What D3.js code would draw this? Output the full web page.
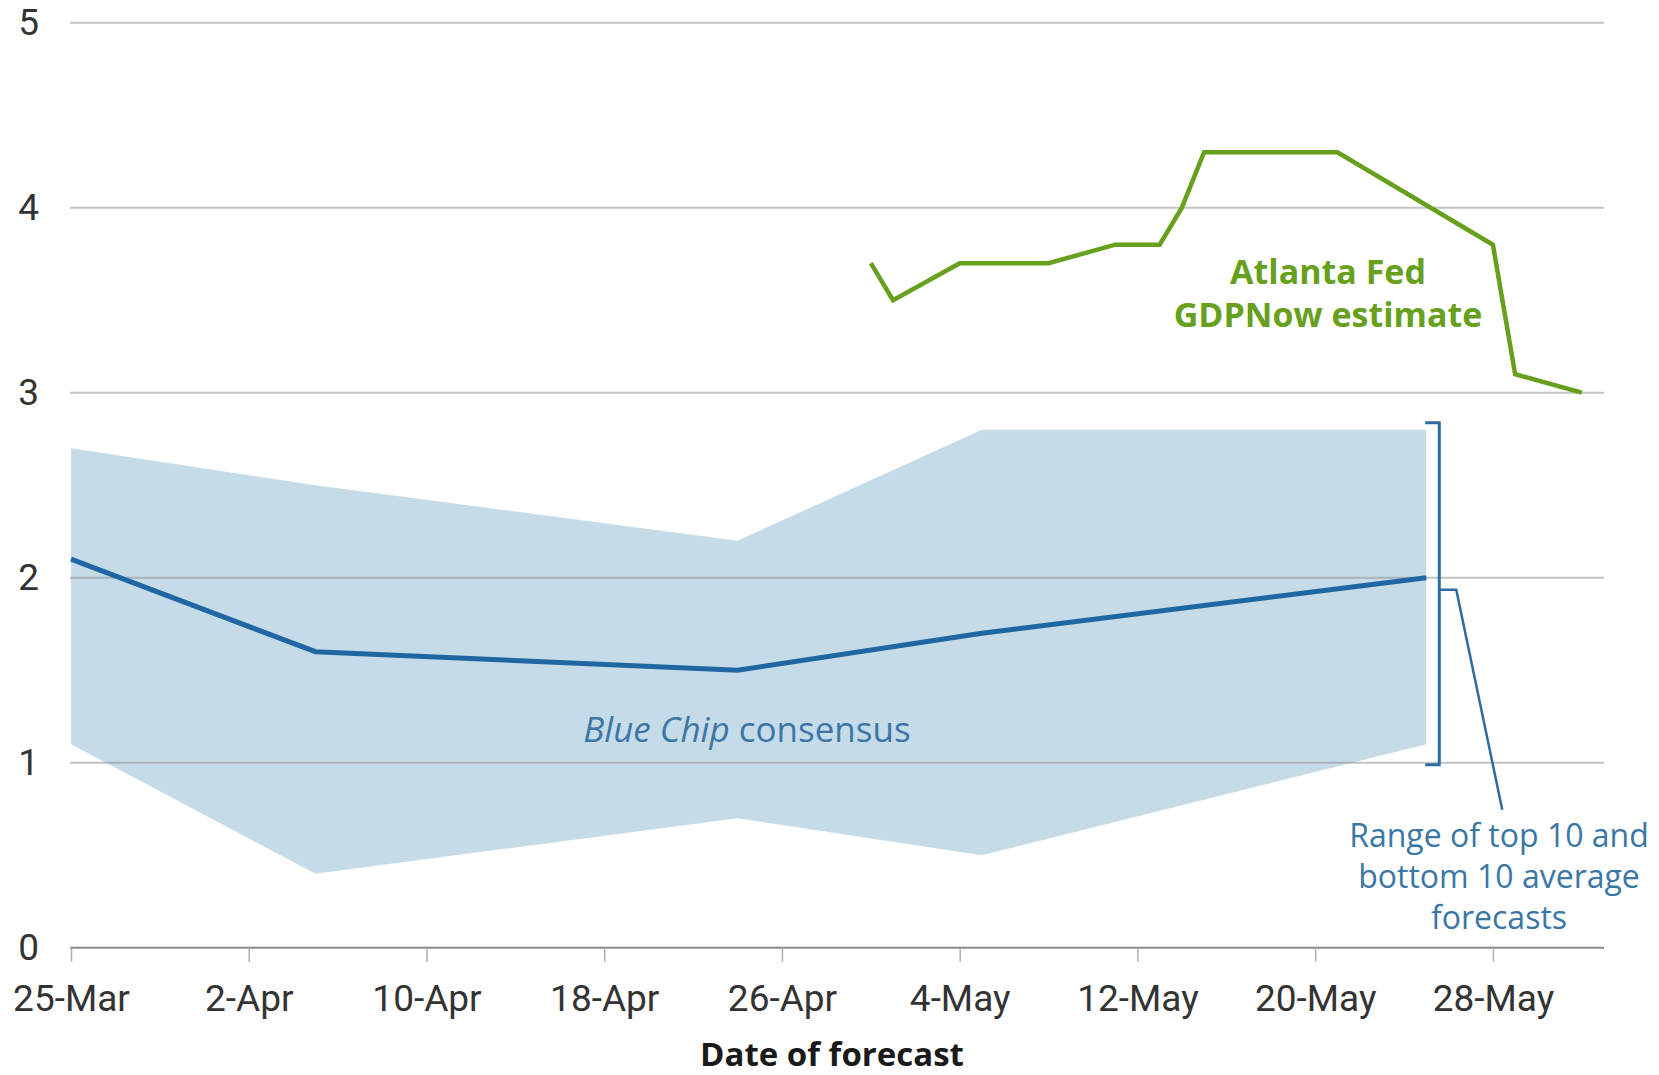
<!DOCTYPE html>
<html>
<head>
<meta charset="utf-8">
<script src="https://cdn.jsdelivr.net/npm/d3@7/dist/d3.min.js"></script>
<style>
  html, body { margin: 0; padding: 0; background: #fff; }
  svg { display: block; font-family: "Open Sans", Roboto, sans-serif; }
</style>
</head>
<body>
<svg id="chart" width="1659" height="1075"></svg>
<script>
// ---------------- data ----------------
const bcDates      = ["2017-03-25", "2017-04-05", "2017-04-24", "2017-05-05", "2017-05-25"];
const bcConsensus  = [2.1, 1.6, 1.5, 1.7, 2.0];
const bcTop10      = [2.7, 2.5, 2.2, 2.8, 2.8];
const bcBottom10   = [1.1, 0.4, 0.7, 0.5, 1.1];

const gdpNowDates  = ["2017-04-30", "2017-05-01", "2017-05-04", "2017-05-08", "2017-05-11", "2017-05-13",
                      "2017-05-14", "2017-05-15", "2017-05-21", "2017-05-28", "2017-05-29", "2017-06-01"];
const gdpNowValues = [3.7, 3.5, 3.7, 3.7, 3.8, 3.8, 4.0, 4.3, 4.3, 3.8, 3.1, 3.0];

const xTickDates   = ["2017-03-25", "2017-04-02", "2017-04-10", "2017-04-18", "2017-04-26",
                      "2017-05-04", "2017-05-12", "2017-05-20", "2017-05-28"];
const yTickValues  = [0, 1, 2, 3, 4, 5];
const xDomain      = ["2017-03-25", "2017-06-02"];
const yDomain      = [0, 5];

const xTitle        = "Date of forecast";
const gdpLabel      = ["Atlanta Fed", "GDPNow estimate"];
const rangeLabel    = ["Range of top 10 and", "bottom 10 average", "forecasts"];

// ---------------- setup ----------------
const parse = d3.utcParse("%Y-%m-%d");
const fmt = d3.utcFormat("%-d-%b");

const svg = d3.select("#chart");
const x = d3.scaleUtc().domain(xDomain.map(parse)).range([71, 1604]);
const y = d3.scaleLinear().domain(yDomain).range([947.7, 22.7]);

const bc = bcDates.map((d, i) => ({ date: parse(d), mid: bcConsensus[i], hi: bcTop10[i], lo: bcBottom10[i] }));
const gdp = gdpNowDates.map((d, i) => ({ date: parse(d), v: gdpNowValues[i] }));

const green = "#66a01c";
const blueLine = "#1f66a2";
const bandFill = "#c5dbe8";
const annoBlue = "#3b77a6";

// band
svg.append("path")
  .datum(bc)
  .attr("fill", bandFill)
  .attr("d", d3.area().x(d => x(d.date)).y0(d => y(d.lo)).y1(d => y(d.hi)));

// gridlines (above band)
svg.append("g")
  .selectAll("line")
  .data(yTickValues.filter(v => v > 0))
  .join("line")
  .attr("x1", 70).attr("x2", 1604)
  .attr("y1", d => y(d)).attr("y2", d => y(d))
  .attr("stroke", "#8f8f8f")
  .attr("stroke-opacity", 0.55)
  .attr("stroke-width", 2);

// y axis labels
const yAxis = svg.append("g")
  .attr("transform", "translate(39,0)")
  .call(d3.axisLeft(y).tickValues(yTickValues).tickSize(0).tickPadding(0).tickFormat(d3.format("d")));
yAxis.select(".domain").remove();
yAxis.selectAll("text")
  .attr("font-family", "Roboto, sans-serif")
  .attr("font-size", 37)
  .attr("fill", "#333");

// x axis
const xAxis = svg.append("g")
  .attr("transform", `translate(0,${y(0)})`)
  .call(d3.axisBottom(x).tickValues(xTickDates.map(parse)).tickSize(14).tickPadding(23).tickFormat(fmt).tickSizeOuter(0));
xAxis.select(".domain")
  .attr("d", `M70,0H1604`)
  .attr("stroke", "#8a8a8a")
  .attr("stroke-width", 2);
xAxis.selectAll(".tick line").attr("stroke", "#b0b0b0").attr("stroke-width", 1.5);
xAxis.selectAll(".tick text")
  .attr("font-family", "Roboto, sans-serif")
  .attr("font-size", 37)
  .attr("fill", "#333");

// x title
svg.append("text")
  .attr("x", 832).attr("y", 1066)
  .attr("text-anchor", "middle")
  .attr("font-size", 33)
  .attr("font-weight", "bold")
  .attr("fill", "#1a1a1a")
  .text(xTitle);

// consensus line
svg.append("path")
  .datum(bc)
  .attr("fill", "none")
  .attr("stroke", blueLine)
  .attr("stroke-width", 5)
  .attr("d", d3.line().x(d => x(d.date)).y(d => y(d.mid)));

// GDPNow line
svg.append("path")
  .datum(gdp)
  .attr("fill", "none")
  .attr("stroke", green)
  .attr("stroke-width", 4.5)
  .attr("d", d3.line().x(d => x(d.date)).y(d => y(d.v)));

// Blue Chip label
const bcText = svg.append("text")
  .attr("x", 747).attr("y", 742)
  .attr("text-anchor", "middle")
  .attr("font-size", 35)
  .attr("fill", annoBlue);
bcText.append("tspan").attr("font-style", "italic").text("Blue Chip");
bcText.append("tspan").text(" consensus");

// GDPNow label
svg.append("g").selectAll("text")
  .data(gdpLabel)
  .join("text")
  .attr("x", 1328)
  .attr("y", (d, i) => 284 + i * 43)
  .attr("text-anchor", "middle")
  .attr("font-size", 34)
  .attr("font-weight", "bold")
  .attr("fill", green)
  .text(d => d);

// bracket
const last = bc[bc.length - 1];
const bx = x(last.date) + 13;
const bTop = y(last.hi) - 7;
const bBot = y(1.0) + 2;
const bMid = y(last.mid) + 12;
svg.append("path")
  .attr("fill", "none")
  .attr("stroke", "#2e6b9e")
  .attr("stroke-width", 3)
  .attr("d", `M${bx - 14},${bTop}H${bx}V${bBot}H${bx - 14}`);
svg.append("path")
  .attr("fill", "none")
  .attr("stroke", "#2e6b9e")
  .attr("stroke-width", 2.5)
  .attr("d", `M${bx},${bMid}H${bx + 17}L${bx + 63},${bMid + 220}`);

// Range label
svg.append("g").selectAll("text")
  .data(rangeLabel)
  .join("text")
  .attr("x", 1499)
  .attr("y", (d, i) => 847 + i * 41)
  .attr("text-anchor", "middle")
  .attr("font-size", 32)
  .attr("fill", annoBlue)
  .text(d => d);
</script>
</body>
</html>
